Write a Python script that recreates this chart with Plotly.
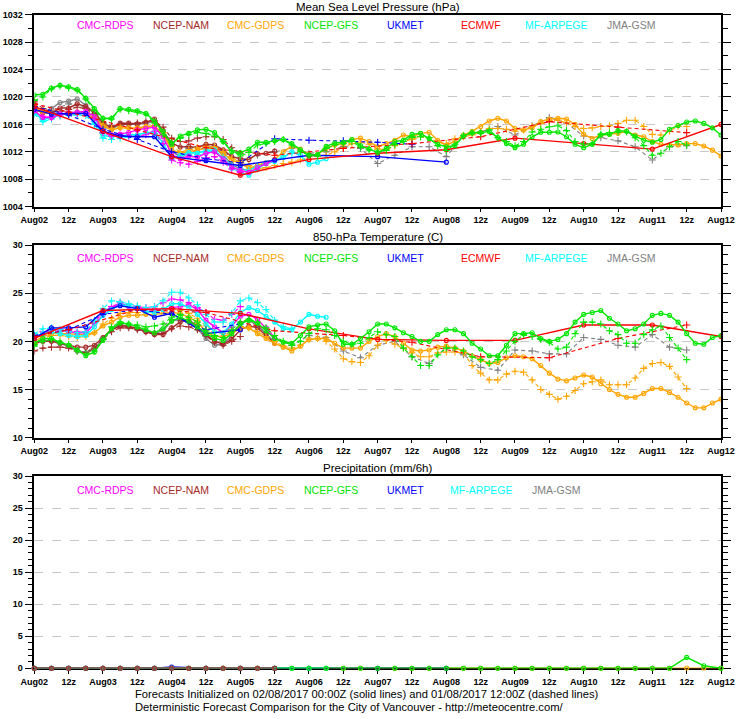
import plotly.graph_objects as go

W, H = 736, 719

# ---------------- categories / labels ----------------
MODELS = ["CMC-RDPS", "NCEP-NAM", "CMC-GDPS", "NCEP-GFS", "UKMET", "ECMWF", "MF-ARPEGE", "JMA-GSM"]
COLORS = {"CMC-RDPS": "#ff00ff", "NCEP-NAM": "#a52a2a", "CMC-GDPS": "#ffa500", "NCEP-GFS": "#00e600",
          "UKMET": "#0000ff", "ECMWF": "#ff0000", "MF-ARPEGE": "#00ffff", "JMA-GSM": "#808080"}
X_TICK_HOURS = [0, 12, 24, 36, 48, 60, 72, 84, 96, 108, 120, 132, 144, 156, 168, 180, 192, 204, 216, 228, 240]
X_TICK_TEXT = ["Aug02", "12z", "Aug03", "12z", "Aug04", "12z", "Aug05", "12z", "Aug06", "12z", "Aug07",
               "12z", "Aug08", "12z", "Aug09", "12z", "Aug10", "12z", "Aug11", "12z", "Aug12"]
MSLP_TICKS = [1004, 1008, 1012, 1016, 1020, 1024, 1028, 1032]
T_TICKS = [10, 15, 20, 25, 30]
PCP_TICKS = [0, 5, 10, 15, 20, 25, 30]

# ---------------- Mean sea level pressure (hPa) ----------------
# 3-hourly from Aug02 00Z
mslp_gfs_00 = [1020.3, 1020.4, 1021.3, 1021.7, 1021.5, 1021.1, 1019.8, 1018.3,
               1016.9, 1016.9, 1018.3, 1018.2, 1018.0, 1017.6, 1016.5, 1015.0,
               1013.1, 1014.3, 1014.7, 1015.2, 1015.3, 1014.8, 1013.5, 1012.0,
               1011.9, 1012.4, 1013.4, 1013.4, 1013.6, 1013.8, 1013.2, 1012.3,
               1011.5, 1011.6, 1012.8, 1013.3, 1013.4, 1013.8, 1012.9, 1012.4,
               1011.9, 1012.5, 1013.5, 1013.7, 1014.55, 1014.7, 1013.95, 1013.1,
               1012.75, 1012.9, 1014.35, 1014.8, 1014.85, 1014.95, 1014.1, 1013.2,
               1012.6, 1013.1, 1014.2, 1014.85, 1014.85, 1014.9, 1014.2, 1013.1,
               1012.6, 1013.1, 1014.5, 1014.55, 1015.1, 1015.0, 1014.3, 1013.7,
               1013.4, 1013.8, 1015.3, 1015.85, 1016.35, 1016.5, 1016.15, 1015.5,
               1014.45]
mslp_gfs_12 = [1019.5, 1020.0, 1021.2, 1021.6, 1021.3, 1021.0, 1019.7, 1018.0,
               1016.8, 1016.8, 1018.2, 1018.0, 1017.8, 1017.5, 1016.2, 1014.5,
               1013.4, 1014.0, 1014.5, 1014.8, 1014.7, 1014.3, 1013.5, 1012.2,
               1011.4, 1011.9, 1013.0, 1013.2, 1013.5, 1013.8, 1013.0, 1012.0,
               1011.5, 1011.4, 1012.5, 1013.0, 1013.2, 1013.5, 1012.7, 1012.3,
               1012.0, 1012.2, 1013.05, 1013.5, 1014.15, 1014.2, 1014.05, 1012.9,
               1012.2, 1013.1, 1014.35, 1014.8, 1014.7, 1015.2, 1014.1, 1013.5,
               1012.9, 1013.5, 1014.9, 1015.3, 1015.65, 1015.8, 1015.1, 1013.5,
               1013.1, 1013.2, 1014.55, 1014.8, 1014.9, 1014.9, 1014.05, 1012.9,
               1011.5, 1011.8, 1012.75, 1013.5, 1013.0]
mslp_gdps_00 = [1018.5, 1017.8, 1017.5, 1017.5, 1017.6, 1017.8, 1017.6, 1016.9,
                1015.8, 1015.2, 1015.5, 1015.5, 1015.5, 1015.7, 1015.8, 1014.5,
                1012.3, 1011.8, 1012.0, 1012.3, 1012.5, 1012.5, 1011.8, 1010.8,
                1010.3, 1009.6, 1010.0, 1010.4, 1010.9, 1012.0, 1012.8, 1012.4,
                1011.6, 1011.6, 1012.5, 1013.0, 1013.2, 1013.8, 1014.0, 1013.5,
                1012.75, 1013.2, 1013.7, 1014.45, 1014.2, 1014.7, 1014.85, 1013.7,
                1012.9, 1013.6, 1014.45, 1015.0, 1015.7, 1016.5, 1016.9, 1016.5,
                1015.4, 1015.2, 1015.5, 1016.4, 1016.8, 1016.9, 1016.8, 1016.0,
                1014.55, 1013.95, 1014.45, 1014.6, 1014.7, 1015.0, 1014.45, 1014.2,
                1013.5, 1013.1, 1013.0, 1013.0, 1013.2, 1013.2, 1012.85, 1012.25,
                1011.4]
mslp_gdps_12 = [1018.8, 1018.0, 1017.6, 1017.4, 1017.5, 1017.6, 1017.8, 1017.0,
                1015.9, 1015.4, 1015.6, 1015.4, 1015.3, 1015.6, 1015.8, 1014.8,
                1012.8, 1012.0, 1012.3, 1012.6, 1012.8, 1012.7, 1012.0, 1011.0,
                1010.6, 1010.0, 1009.5, 1009.7, 1010.0, 1010.3, 1010.5, 1010.8,
                1011.3, 1011.4, 1011.5, 1012.0, 1012.6, 1013.2, 1013.4, 1013.1,
                1012.4, 1012.35, 1012.9, 1013.5, 1013.8, 1014.2, 1014.1, 1013.4,
                1013.2, 1013.9, 1014.2, 1014.45, 1014.9, 1015.4, 1015.4, 1015.3,
                1015.0, 1015.2, 1015.7, 1016.15, 1016.55, 1016.6, 1016.25, 1015.7,
                1015.4, 1015.5, 1015.7, 1015.8, 1016.15, 1016.6, 1016.6, 1015.7,
                1014.55, 1014.45, 1015.0, 1015.75, 1015.7]
mslp_jma_00 = [1018.0, 1017.8, 1018.3, 1019.2, 1019.4, 1019.7, 1018.8, 1017.5,
               1015.8, 1015.3, 1016.0, 1016.0, 1016.0, 1016.2, 1016.4, 1015.0,
               1012.2, 1011.2, 1011.8, 1012.1, 1012.8, 1012.6, 1011.5, 1010.2,
               1009.5, 1009.3, 1010.0, 1010.4, 1010.8]
# 6-hourly
mslp_jma_12 = [1018.5, 1018.0, 1019.0, 1018.5, 1015.5, 1015.8, 1016.0, 1016.5,
               1013.0, 1012.5, 1013.0, 1012.0, 1010.5, 1011.5, 1012.0, 1012.5,
               1011.8, 1012.0, 1012.8, 1012.5, 1010.3, 1011.5, 1012.75, 1012.75,
               1011.3, 1014.3, 1014.9, 1015.7, 1014.45, 1015.8, 1017.0, 1016.2,
               1014.3, 1014.05, 1013.6, 1012.75, 1010.8, 1012.75, 1012.9]
mslp_nam_00 = [1018.3, 1017.7, 1017.6, 1018.4, 1018.4, 1019.0, 1018.6, 1017.8,
               1016.2, 1015.5, 1016.2, 1016.2, 1016.1, 1016.3, 1016.8, 1015.0,
               1013.3, 1012.7, 1012.8, 1012.6, 1013.1, 1013.0, 1012.3, 1011.3,
               1011.0, 1010.9, 1011.7, 1011.8, 1012.1]
mslp_nam_12 = [1019.3, 1018.3, 1017.8, 1017.9, 1018.2, 1018.5, 1018.3, 1017.5,
               1016.3, 1015.8, 1016.0, 1016.0, 1016.2, 1016.4, 1016.5, 1015.6,
               1014.0, 1013.5, 1013.6, 1014.0, 1014.2, 1014.2, 1013.8, 1012.6,
               1011.8]
mslp_rdps_00 = [1018.0, 1017.0, 1017.0, 1017.5, 1017.7, 1017.8, 1017.9, 1017.2,
                1015.0, 1014.5, 1014.6, 1014.8, 1015.2, 1015.4, 1015.6, 1014.2,
                1011.6, 1011.0, 1011.4, 1011.2, 1011.8, 1012.0, 1011.0, 1009.8,
                1009.3, 1009.0, 1009.7, 1010.3, 1010.8]
mslp_rdps_12 = [1018.0, 1017.2, 1017.0, 1017.4, 1017.5, 1017.6, 1017.7, 1016.8,
                1014.8, 1014.3, 1014.4, 1014.3, 1014.2, 1014.5, 1015.0, 1013.2,
                1010.8, 1010.4, 1010.2, 1010.6, 1011.1, 1011.3, 1010.5, 1009.5,
                1009.0]
mslp_arpege_00 = [1017.8, 1016.6, 1017.2, 1017.5, 1017.5, 1017.7, 1017.6, 1016.4,
                  1014.4, 1014.2, 1014.3, 1014.5, 1014.5, 1014.8, 1014.9, 1013.3,
                  1011.0, 1011.5, 1011.9, 1011.8, 1012.2, 1012.3, 1011.0, 1009.6,
                  1009.0, 1008.6, 1009.5, 1010.3, 1010.6, 1011.2, 1012.0, 1011.5,
                  1010.2, 1010.5, 1011.0]
mslp_arpege_12 = [1017.5, 1016.4, 1016.8, 1017.2, 1017.4, 1017.4, 1017.3, 1016.0,
                  1014.0, 1013.8, 1014.0, 1014.2, 1014.4, 1014.6, 1014.7, 1013.0,
                  1011.2, 1011.4, 1011.6, 1011.6, 1012.0, 1012.1, 1011.2, 1010.0,
                  1009.5, 1009.3, 1009.9, 1010.3, 1010.8, 1011.4, 1011.8]
ukmet_hours_00 = [0, 6, 12, 18, 24, 30, 36, 42, 48, 60, 72, 84, 96, 120, 144]
mslp_ukmet_00 = [1018.2, 1017.5, 1017.6, 1017.6, 1015.0, 1014.3, 1014.2, 1014.2, 1011.3,
                 1010.7, 1010.0, 1010.8, 1011.5, 1011.3, 1010.5]
ukmet_hours_12 = [0, 12, 24, 36, 48, 60, 72, 84, 96, 108, 120, 132]
mslp_ukmet_12 = [1018.6, 1017.4, 1015.3, 1013.8, 1012.0, 1011.0, 1010.4, 1013.9, 1013.7,
                 1013.6, 1013.4, 1013.1]
ecmwf_hours_00 = [0, 24, 48, 72, 96, 120, 144, 168, 192, 216, 240]
mslp_ecmwf_00 = [1018.6, 1015.0, 1011.3, 1008.6, 1010.9, 1011.8, 1012.3, 1014.0, 1013.2, 1012.4, 1016.0]
ecmwf_hours_12 = [0, 12, 36, 60, 84, 108, 132, 156, 180, 204, 228]
mslp_ecmwf_12 = [1019.0, 1017.8, 1015.2, 1012.6, 1011.5, 1012.5, 1013.2, 1014.2, 1016.4, 1015.6, 1014.8]

# ---------------- 850-hPa temperature (C) ----------------
t_gfs_00 = [19.8, 20.3, 20.3, 19.9, 19.6, 19.1, 18.5, 18.9,
            20.1, 21.3, 21.9, 21.8, 21.5, 21.2, 20.9, 21.3,
            22.1, 22.5, 22.1, 21.5, 20.8, 20.3, 20.1, 20.8,
            21.8, 22.2, 21.9, 21.1, 20.3, 19.9, 19.8, 20.6,
            21.5, 21.7, 21.8, 21.1, 19.7, 19.7, 20.3, 21.0,
            21.8, 21.8, 21.4, 20.9, 20.5, 20.0, 20.0, 20.7,
            21.2, 21.2, 20.8, 19.8, 19.2, 18.5, 18.5, 19.6,
            20.8, 20.8, 20.9, 20.3, 20.0, 20.2, 20.8, 22.0,
            22.8, 23.0, 23.2, 22.4, 21.8, 21.1, 21.3, 21.8,
            22.7, 22.9, 22.7, 22.0, 20.8, 19.8, 19.7, 20.4,
            20.6]
t_gfs_12 = [19.5, 20.0, 20.2, 19.9, 19.7, 19.0, 18.7, 19.0,
            20.2, 21.5, 22.0, 21.8, 21.7, 21.5, 21.6, 21.8,
            22.5, 22.8, 22.5, 22.0, 21.1, 20.6, 20.4, 21.2,
            22.0, 22.3, 22.0, 21.4, 20.6, 20.0, 19.6, 20.0,
            20.8, 21.3, 21.2, 20.6, 20.0, 19.7, 19.8, 20.4,
            21.0, 20.7, 20.5, 19.3, 18.4, 17.5, 17.5, 18.6,
            19.3, 19.3, 19.0, 18.4, 18.1, 17.7, 18.1, 19.0,
            20.0, 20.7, 20.5, 20.2, 19.9, 19.2, 19.4, 20.8,
            22.0, 22.0, 21.8, 21.1, 20.7, 19.8, 19.8, 20.7,
            21.2, 21.6, 20.4, 19.3, 18.1]
t_gdps_00 = [20.0, 20.5, 20.8, 20.8, 20.8, 20.7, 20.7, 20.9,
             21.6, 22.0, 22.5, 22.7, 22.7, 22.8, 22.8, 22.9,
             23.0, 22.9, 22.5, 22.0, 21.0, 20.5, 20.5, 20.8,
             21.4, 21.4, 20.8, 20.3, 19.8, 19.4, 19.0, 19.5,
             20.2, 20.3, 20.3, 19.8, 19.3, 19.3, 19.3, 20.0,
             20.5, 20.8, 20.5, 19.8, 19.1, 19.0, 19.1, 19.4,
             19.5, 19.3, 19.0, 18.5, 18.1, 17.7, 17.8, 18.3,
             18.5, 18.4, 18.2, 17.5, 16.7, 16.1, 15.9, 16.2,
             16.5, 16.3, 15.6, 15.0, 14.5, 14.2, 14.2, 14.6,
             15.1, 15.1, 14.7, 14.2, 13.6, 13.1, 13.1, 13.6,
             14.0]
t_gdps_12 = [19.8, 20.3, 20.6, 20.6, 20.5, 20.4, 20.5, 20.9,
             21.8, 22.4, 22.9, 23.0, 23.0, 23.0, 23.1, 23.3,
             23.4, 23.2, 22.9, 22.4, 21.6, 21.0, 20.8, 21.0,
             21.5, 21.4, 21.0, 20.5, 20.0, 19.5, 19.3, 19.6,
             20.2, 20.3, 20.0, 19.2, 18.2, 17.9, 17.8, 18.5,
             19.6, 20.1, 19.7, 19.3, 18.8, 18.4, 18.4, 18.8,
             18.9, 18.9, 18.8, 17.5, 16.7, 16.0, 16.0, 16.6,
             16.9, 16.8, 16.0, 15.0, 14.5, 14.0, 14.3, 14.9,
             15.6, 15.8, 16.0, 15.5, 15.5, 15.5, 16.2, 17.2,
             17.7, 17.8, 17.4, 16.3, 15.1]
t_jma_00 = [19.9, 20.1, 20.1, 19.8, 19.5, 19.0, 18.8, 19.2,
            20.3, 21.3, 21.7, 21.5, 21.3, 21.0, 20.8, 21.1,
            22.1, 22.3, 22.0, 21.3, 20.3, 19.6, 19.7, 20.6,
            21.9, 22.2, 21.6, 20.8, 19.9]
t_jma_12 = [19.8, 20.0, 19.5, 18.8, 20.3, 21.8, 21.4, 20.8,
            22.3, 22.0, 20.5, 19.8, 21.5, 21.6, 20.3, 19.6,
            20.6, 20.4, 19.0, 18.3, 19.6, 20.0, 18.4, 17.7,
            19.4, 18.6, 17.3, 17.0, 19.1, 19.0, 18.7, 18.7,
            20.4, 20.2, 19.6, 19.4, 20.7, 19.4, 19.1]
t_nam_00 = [19.8, 20.0, 20.0, 19.8, 19.6, 19.4, 19.4, 19.6,
            20.4, 21.2, 21.6, 21.6, 21.3, 21.0, 20.7, 20.7,
            21.4, 22.0, 22.2, 21.6, 20.7, 20.0, 19.7, 20.2,
            21.2, 21.6, 21.4, 20.6, 19.8]
t_nam_12 = [19.0, 19.3, 19.4, 19.4, 19.3, 19.0, 18.8, 19.3,
            20.2, 21.0, 21.4, 21.4, 21.2, 21.0, 20.8, 20.8,
            21.3, 21.6, 21.5, 21.2, 20.6, 19.9, 19.6, 20.0,
            20.5]
t_rdps_00 = [20.3, 20.8, 21.2, 21.2, 21.0, 20.9, 20.9, 21.8,
             22.7, 23.4, 24.0, 23.6, 23.5, 23.3, 23.3, 23.3,
             23.5, 23.6, 23.8, 23.3, 22.2, 21.5, 20.9, 21.6,
             22.6, 22.8, 22.3, 21.4, 20.4]
t_rdps_12 = [20.5, 21.0, 21.3, 21.2, 21.1, 21.0, 21.0, 22.0,
             23.0, 23.6, 24.0, 23.8, 23.6, 23.5, 23.6, 24.0,
             24.4, 24.3, 24.0, 23.5, 23.0, 22.3, 22.2, 22.8,
             23.6]
t_arpege_00 = [20.5, 20.8, 21.0, 20.8, 20.6, 20.5, 20.6, 21.5,
               22.7, 23.3, 23.8, 23.7, 23.4, 23.1, 23.0, 23.3,
               23.9, 23.9, 23.5, 22.8, 21.8, 21.0, 20.9, 21.8,
               23.0, 23.5, 23.2, 22.6, 22.0, 21.3, 21.2, 22.0,
               22.8, 22.6, 22.5]
t_arpege_12 = [20.8, 21.3, 21.4, 21.2, 21.0, 20.9, 21.0, 22.2,
               23.4, 24.2, 24.1, 23.9, 23.7, 23.5, 23.6, 24.2,
               25.1, 25.1, 24.5, 23.8, 22.8, 22.0, 22.0, 22.9,
               24.2, 24.5, 24.0, 23.3, 22.2, 21.5, 21.3]
ukmet_t_hours_00 = [0, 6, 12, 18, 24, 30, 36, 42, 48, 60, 72]
t_ukmet_00 = [20.3, 21.4, 21.4, 21.5, 23.1, 23.7, 23.4, 22.5, 22.9, 20.8, 21.2]
ukmet_t_hours_12 = [0, 12, 24, 36, 48, 60, 72]
t_ukmet_12 = [20.6, 21.2, 22.8, 23.3, 22.8, 21.2, 21.8]
t_ecmwf_00 = [20.3, 23.2, 23.4, 22.9, 21.3, 20.2, 20.1, 20.1, 21.7, 21.7, 20.5]
t_ecmwf_12 = [20.5, 21.2, 23.3, 23.0, 21.1, 20.6, 19.9, 18.4, 18.3, 20.3, 21.7]

# ---------------- Precipitation (mm/6h), 6-hourly ----------------
p_rdps = [0, 0, 0, 0, 0, 0, 0, 0, 0, 0, 0, 0, 0, 0, 0]
p_nam = [0, 0, 0, 0, 0, 0, 0, 0, 0, 0, 0, 0, 0, 0, 0]
p_jma = [0, 0, 0, 0, 0, 0, 0, 0, 0, 0, 0, 0, 0, 0, 0]
p_arpege = [0, 0, 0, 0, 0, 0, 0, 0, 0, 0, 0, 0, 0, 0, 0, 0, 0, 0]
p_ukmet_hours = [0, 6, 12, 18, 24, 30, 36, 42, 48, 60, 72, 84, 96, 120, 144]
p_ukmet = [0, 0, 0, 0, 0, 0, 0, 0, 0.2, 0, 0, 0, 0, 0, 0]
p_gdps = [0, 0, 0, 0, 0, 0, 0, 0, 0, 0, 0, 0, 0, 0, 0, 0, 0, 0, 0, 0,
          0, 0, 0, 0, 0, 0, 0, 0, 0, 0, 0, 0, 0, 0, 0, 0, 0, 0, 0.05, 0.05, 0]
p_gfs = [0, 0, 0, 0, 0, 0, 0, 0, 0, 0, 0, 0, 0, 0, 0, 0, 0, 0, 0, 0,
         0, 0, 0, 0, 0, 0, 0, 0, 0, 0, 0, 0, 0, 0, 0, 0, 0, 0, 1.7, 0.4, 0]

FONT = "Liberation Sans, Arial, Helvetica, sans-serif"


def hours(step, values):
    return [i * step for i in range(len(values))]


fig = go.Figure()


def add(panel, model, xs, ys, dashed, **kw):
    col = COLORS[model]
    if dashed:
        marker = dict(symbol="cross-thin-open", size=5, line=dict(color=col, width=1.1), color=col)
        line = dict(color=col, width=1.1, dash="4px,3px")
    else:
        marker = dict(symbol="circle-open", size=4, line=dict(color=col, width=1.1), color=col)
        line = dict(color=col, width=1.4)
    fig.add_trace(go.Scatter(x=xs, y=ys, mode="lines+markers", line=line, marker=marker,
                             xaxis="x" if panel == 1 else f"x{panel}",
                             yaxis="y" if panel == 1 else f"y{panel}",
                             showlegend=False, hoverinfo="skip", **kw))


mslp = [
    ("JMA-GSM", hours(3, mslp_jma_00), mslp_jma_00, hours(6, mslp_jma_12), mslp_jma_12),
    ("NCEP-NAM", hours(3, mslp_nam_00), mslp_nam_00, hours(3, mslp_nam_12), mslp_nam_12),
    ("CMC-GDPS", hours(3, mslp_gdps_00), mslp_gdps_00, hours(3, mslp_gdps_12), mslp_gdps_12),
    ("MF-ARPEGE", hours(3, mslp_arpege_00), mslp_arpege_00, hours(3, mslp_arpege_12), mslp_arpege_12),
    ("CMC-RDPS", hours(3, mslp_rdps_00), mslp_rdps_00, hours(3, mslp_rdps_12), mslp_rdps_12),
    ("UKMET", ukmet_hours_00, mslp_ukmet_00, ukmet_hours_12, mslp_ukmet_12),
    ("ECMWF", ecmwf_hours_00, mslp_ecmwf_00, ecmwf_hours_12, mslp_ecmwf_12),
    ("NCEP-GFS", hours(3, mslp_gfs_00), mslp_gfs_00, hours(3, mslp_gfs_12), mslp_gfs_12),
]
temp = [
    ("JMA-GSM", hours(3, t_jma_00), t_jma_00, hours(6, t_jma_12), t_jma_12),
    ("NCEP-NAM", hours(3, t_nam_00), t_nam_00, hours(3, t_nam_12), t_nam_12),
    ("CMC-GDPS", hours(3, t_gdps_00), t_gdps_00, hours(3, t_gdps_12), t_gdps_12),
    ("CMC-RDPS", hours(3, t_rdps_00), t_rdps_00, hours(3, t_rdps_12), t_rdps_12),
    ("MF-ARPEGE", hours(3, t_arpege_00), t_arpege_00, hours(3, t_arpege_12), t_arpege_12),
    ("UKMET", ukmet_t_hours_00, t_ukmet_00, ukmet_t_hours_12, t_ukmet_12),
    ("ECMWF", ecmwf_hours_00, t_ecmwf_00, ecmwf_hours_12, t_ecmwf_12),
    ("NCEP-GFS", hours(3, t_gfs_00), t_gfs_00, hours(3, t_gfs_12), t_gfs_12),
]
for panel, block in ((1, mslp), (2, temp)):
    for model, x0, y0, x1, y1 in block:
        add(panel, model, x1, y1, True)
        add(panel, model, x0, y0, False)

pcp = [
    ("CMC-RDPS", hours(6, p_rdps), p_rdps),
    ("CMC-GDPS", hours(6, p_gdps), p_gdps),
    ("UKMET", p_ukmet_hours, p_ukmet),
    ("MF-ARPEGE", hours(6, p_arpege), p_arpege),
    ("NCEP-GFS", hours(6, p_gfs), p_gfs),
    ("JMA-GSM", hours(6, p_jma), p_jma),
    ("NCEP-NAM", hours(6, p_nam), p_nam),
]
for model, xs, ys in pcp:
    add(3, model, xs, ys, False, cliponaxis=False)


def px(x):
    return x / W


def py(y):
    return 1 - y / H


XDOM = [px(34.3), px(721)]
PANELS = {1: (14.7, 206.7), 2: (245.0, 437.7), 3: (476.0, 668.3)}
YCFG = {1: ([1004, 1032], MSLP_TICKS, 2), 2: ([10, 30], T_TICKS, 1), 3: ([0, 30], PCP_TICKS, 1)}

layout = dict(width=W, height=H, margin=dict(l=0, r=0, t=0, b=0, pad=0), autosize=False,
              paper_bgcolor="white", plot_bgcolor="white",
              font=dict(family=FONT, color="black"))
for p in (1, 2, 3):
    top, bot = PANELS[p]
    rng, tv, mdt = YCFG[p]
    xa = dict(domain=XDOM, range=[0, 240], tickmode="array", tickvals=X_TICK_HOURS, ticktext=X_TICK_TEXT,
              ticks="outside", ticklen=4, tickwidth=1.2, tickcolor="black", automargin=False,
              showline=True, linewidth=1.5, linecolor="black", mirror=True,
              showgrid=False, zeroline=False,
              tickfont=dict(family=FONT, size=9, weight="bold", color="black"),
              anchor="y" if p == 1 else f"y{p}")
    ya = dict(domain=[py(bot), py(top)], range=rng, tickmode="array", tickvals=tv, automargin=False,
              ticks="outside", ticklen=8, tickwidth=1.2, tickcolor="black",
              showline=True, linewidth=1.5, linecolor="black", mirror="ticks",
              showgrid=True, gridcolor="#c8c8c8", griddash="dash", gridwidth=1, zeroline=False,
              minor=dict(dtick=mdt, tick0=rng[0], ticks="outside", ticklen=5, tickwidth=1, tickcolor="black",
                         showgrid=False),
              tickfont=dict(family=FONT, size=9, weight="bold", color="black"),
              anchor="x" if p == 1 else f"x{p}")
    if p == 3:
        xa["layer"] = "below traces"
        ya["layer"] = "below traces"
    layout["xaxis" if p == 1 else f"xaxis{p}"] = xa
    layout["yaxis" if p == 1 else f"yaxis{p}"] = ya

fig.update_layout(**layout)

ann = []
TITLES = [("Mean Sea Level Pressure (hPa)", 6.5), ("850-hPa Temperature (C)", 237.0),
          ("Precipitation (mm/6h)", 467.5)]
for text, y in TITLES:
    ann.append(dict(text=text, x=px(377.7), y=py(y), xref="paper", yref="paper", showarrow=False,
                    xanchor="center", yanchor="middle", font=dict(family=FONT, size=11.5, color="black")))

LEG_X = [105.5, 180.5, 255.5, 330.5, 405.5, 480.5, 555.5, 630.5]
for y in (25.0, 257.5):
    for name, x in zip(MODELS, LEG_X):
        ann.append(dict(text=name, x=px(x), y=py(y), xref="paper", yref="paper", showarrow=False,
                        xanchor="center", yanchor="middle",
                        font=dict(family=FONT, size=10.5, color=COLORS[name])))
PCP_MODELS = ["CMC-RDPS", "NCEP-NAM", "CMC-GDPS", "NCEP-GFS", "UKMET", "MF-ARPEGE", "JMA-GSM"]
for name, x in zip(PCP_MODELS, LEG_X):
    ann.append(dict(text=name, x=px(x), y=py(490.0), xref="paper", yref="paper", showarrow=False,
                    xanchor="center", yanchor="middle",
                    font=dict(family=FONT, size=10.5, color=COLORS[name])))

FOOTER = ["Forecasts Initialized on 02/08/2017 00:00Z (solid lines) and 01/08/2017 12:00Z (dashed lines)",
          "Deterministic Forecast Comparison for the City of Vancouver - http://meteocentre.com/"]
for text, y in zip(FOOTER, (694.0, 707.0)):
    ann.append(dict(text=text, x=px(133), y=py(y), xref="paper", yref="paper", showarrow=False,
                    xanchor="left", yanchor="middle", font=dict(family=FONT, size=11.2, color="black")))

fig.update_layout(annotations=ann)
# remove the default 8px page margin so the 736x719 figure fills the window exactly
fig.write_html("out.html", config={"displayModeBar": False},
               post_script="document.body.style.margin='0px';document.body.style.overflow='hidden';")
